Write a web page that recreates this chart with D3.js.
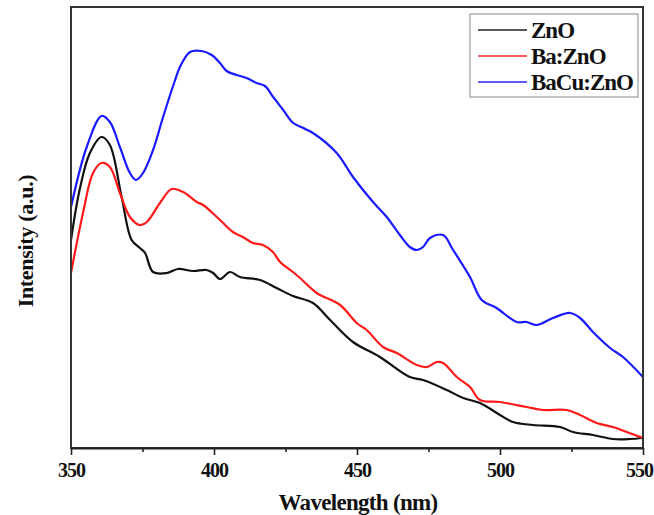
<!DOCTYPE html>
<html>
<head>
<meta charset="utf-8">
<script src="https://cdn.jsdelivr.net/npm/d3@7"></script>
<style>
  body { margin: 0; background: #fff; }
  svg { display: block; }
  text { font-family: "Liberation Serif", "DejaVu Serif", serif; font-weight: bold; }
</style>
</head>
<body>
<svg id="chart" width="654" height="515"></svg>
<script>
// ---- Data ----
const seriesNames = ["ZnO", "Ba:ZnO", "BaCu:ZnO"];
const seriesColors = ["#111111", "#ff1a1a", "#1a1aff"];
const xTicks = [350, 400, 450, 500, 550];
const xMinorTicks = [375, 425, 475, 525];

const znoWavelength = [350, 353, 356.6, 360.7, 363.6, 367.7, 371.2, 374.1, 375.9, 378.7, 383.5, 387.4, 392.7, 397.4, 399.7, 402.1, 405.6, 409.1, 416.1, 421.9, 427.6, 434.6, 440.6, 448.6, 458, 468.5, 473.1, 481.4, 487.1, 493, 500, 504.5, 511.5, 521, 525.5, 532.5, 539.5, 545.5, 550];
const znoIntensity = [208, 258, 295, 311, 303, 251, 208, 200, 195, 176, 175, 179, 177, 178, 175, 169, 176, 171, 168, 160, 152, 145, 128, 106, 91, 71, 68, 58, 50, 45, 33, 26, 23, 21, 16, 13, 9, 9, 10];

const baWavelength = [350, 354.2, 357.7, 360.7, 363.6, 367.1, 370.6, 374.1, 376.5, 381.1, 385.2, 389.2, 394, 396.2, 401, 406.6, 410.1, 413.6, 417.1, 420.6, 423.1, 427.6, 430.1, 435.9, 444.1, 449.9, 453.4, 459.1, 463.9, 470.9, 474.4, 477.9, 480.1, 484.9, 489.5, 493, 500, 509.3, 515, 523.3, 528, 533.8, 539.5, 544.3, 550];
const baIntensity = [175, 235, 275, 285, 281, 255, 231, 223, 226, 245, 259, 256, 246, 243, 231, 216, 211, 205, 203, 196, 186, 176, 170, 155, 143, 125, 118, 101, 95, 83, 81, 86, 85, 71, 61, 48, 46, 41, 38, 38, 33, 25, 21, 16, 10];

const bacuWavelength = [350, 355.5, 360.7, 363.6, 367.1, 370.6, 372.7, 375.2, 378.7, 382.2, 386.4, 388.1, 391.6, 395.7, 399.2, 402.1, 404.4, 407.9, 411.4, 414.9, 417.8, 420.7, 424.2, 427.7, 431.2, 434.6, 442.9, 448.6, 455.6, 460.4, 465, 468.5, 470.9, 473.1, 475.5, 480.1, 483.6, 489.5, 493.6, 498.8, 505.8, 509.3, 512.8, 518.5, 524.5, 528, 532.5, 538.5, 543, 550];
const bacuIntensity = [241, 301, 332, 326, 301, 275, 268, 275, 298, 331, 368, 381, 396, 397, 393, 385, 377, 373, 370, 365, 362, 351, 338, 325, 320, 315, 295, 271, 246, 231, 213, 201, 198, 201, 210, 213, 198, 171, 148, 140, 126, 126, 123, 130, 135, 130, 116, 100, 91, 71];

const seriesX = [znoWavelength, baWavelength, bacuWavelength];
const seriesY = [znoIntensity, baIntensity, bacuIntensity];

// ---- Layout ----
const svg = d3.select("#chart");
const mLeft = 71, mRight = 643, mTop = 7, mBottom = 448;

const x = d3.scaleLinear().domain([350, 550]).range([mLeft, mRight]);
const y = d3.scaleLinear().domain([0, 441]).range([mBottom, mTop]);

// Lines
const line = d3.line()
  .x(d => x(d[0]))
  .y(d => y(d[1]))
  .curve(d3.curveCatmullRom.alpha(0.5));

svg.append("clipPath").attr("id", "plotclip")
  .append("rect").attr("x", mLeft).attr("y", mTop).attr("width", mRight - mLeft).attr("height", mBottom - mTop);

seriesNames.forEach((name, i) => {
  const pts = seriesX[i].map((w, j) => [w, seriesY[i][j]]);
  svg.append("path")
    .datum(pts)
    .attr("d", line)
    .attr("fill", "none")
    .attr("stroke", seriesColors[i])
    .attr("stroke-width", 2.2)
    .attr("stroke-linejoin", "round")
    .attr("clip-path", "url(#plotclip)");
});

// Frame
svg.append("rect")
  .attr("x", mLeft).attr("y", mTop)
  .attr("width", mRight - mLeft).attr("height", mBottom - mTop)
  .attr("fill", "none").attr("stroke", "#333").attr("stroke-width", 2);

// X axis (major + minor ticks)
const xAxis = d3.axisBottom(x).tickValues(xTicks).tickSize(7).tickSizeOuter(0).tickFormat(d3.format("d"));
const gx = svg.append("g").attr("transform", `translate(0,${mBottom})`).call(xAxis);
gx.select(".domain").attr("stroke", "#222").attr("stroke-width", 2);
gx.selectAll(".tick line").attr("stroke", "#222").attr("stroke-width", 1.6);
gx.selectAll(".tick text")
  .attr("y", 15)
  .attr("dx", d => d === 550 ? -4 : 0)
  .attr("font-family", "'Liberation Serif', serif")
  .attr("font-weight", "bold")
  .attr("font-size", 20)
  .attr("letter-spacing", "-1px")
  .attr("fill", "#111");

const xMinor = d3.axisBottom(x).tickValues(xMinorTicks).tickSize(4).tickFormat("");
const gm = svg.append("g").attr("transform", `translate(0,${mBottom})`).call(xMinor);
gm.select(".domain").remove();
gm.selectAll(".tick line").attr("stroke", "#222").attr("stroke-width", 1.6);

// Axis titles
svg.append("text")
  .attr("x", 358)
  .attr("y", 510)
  .attr("text-anchor", "middle")
  .attr("font-size", 23)
  .attr("letter-spacing", "-0.7px")
  .attr("fill", "#111")
  .text("Wavelength (nm)");

svg.append("text")
  .attr("transform", `translate(33,241) rotate(-90)`)
  .attr("text-anchor", "middle")
  .attr("font-size", 22)
  .attr("letter-spacing", "-0.3px")
  .attr("fill", "#111")
  .text("Intensity (a.u.)");

// Legend
const lg = svg.append("g");
lg.append("rect")
  .attr("x", 470).attr("y", 14).attr("width", 168).attr("height", 83)
  .attr("fill", "#fff").attr("stroke", "#888").attr("stroke-width", 1);
const legendY = [30, 56, 82];
seriesNames.forEach((name, i) => {
  lg.append("line")
    .attr("x1", 478).attr("x2", 527)
    .attr("y1", legendY[i]).attr("y2", legendY[i])
    .attr("stroke", seriesColors[i]).attr("stroke-width", 2)
    .attr("stroke-opacity", 0.7);
  lg.append("text")
    .attr("x", 531).attr("y", legendY[i] + 8)
    .attr("font-size", 23)
    .attr("letter-spacing", "-1px")
    .attr("fill", "#111")
    .text(name);
});
</script>
</body>
</html>
